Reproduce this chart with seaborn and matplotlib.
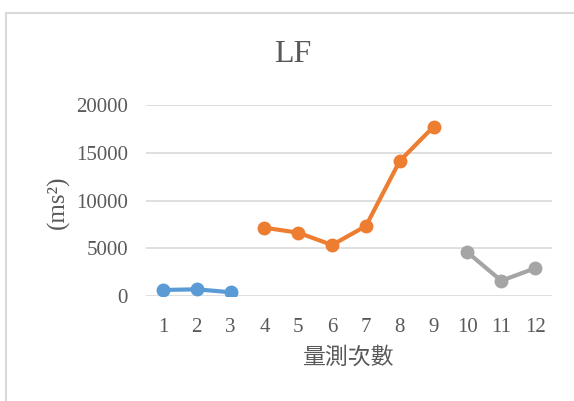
import matplotlib
matplotlib.use("Agg")
import matplotlib.pyplot as plt
from matplotlib.patches import Rectangle
import seaborn as sns
import pandas as pd

# Measurement index and LF power (ms^2), split into three sessions
session1_x = [1, 2, 3]
session1_lf = [630, 700, 390]
session2_x = [4, 5, 6, 7, 8, 9]
session2_lf = [7150, 6630, 5340, 7330, 14140, 17730]
session3_x = [10, 11, 12]
session3_lf = [4580, 1600, 2900]
tick_labels = [str(i) for i in range(1, 13)]

df = pd.concat([
    pd.DataFrame({"x": session1_x, "lf": session1_lf, "session": "s1"}),
    pd.DataFrame({"x": session2_x, "lf": session2_lf, "session": "s2"}),
    pd.DataFrame({"x": session3_x, "lf": session3_lf, "session": "s3"}),
])
palette = {"s1": "#5B9BD5", "s2": "#ED7D31", "s3": "#A5A5A5"}

sns.set_theme(style="white")
plt.rcParams["font.family"] = ["Liberation Serif", "Noto Sans CJK TC"]

fig = plt.figure(figsize=(5.74, 4.01), dpi=100)
ax = fig.add_axes([146 / 574, 1 - 296 / 401, 406 / 574, 191 / 401])

sns.lineplot(data=df, x="x", y="lf", hue="session", palette=palette,
             marker="o", markersize=10, markeredgewidth=0, linewidth=3,
             legend=False, ax=ax, zorder=3)

ax.set_xlim(0.5, 12.5)
ax.set_ylim(0, 20000)
ax.set_yticks([0, 5000, 10000, 15000, 20000])
ax.set_xticks(range(1, 13))
ax.set_xticklabels(tick_labels)
ax.grid(axis="y", color="#d9d9d9", linewidth=1.2)
ax.set_axisbelow(True)
for s in ax.spines.values():
    s.set_visible(False)
ax.tick_params(axis="both", length=0, labelsize=15, labelcolor="#595959")
ax.tick_params(axis="y", pad=13)
ax.tick_params(axis="x", pad=16)

fig.text(293 / 574, 1 - 54 / 401, "LF", fontsize=23, color="#595959",
         ha="center", va="center")
ax.set_xlabel("量測次數", fontsize=16.5, color="#595959",
              family=["Noto Sans CJK TC"])
ax.xaxis.set_label_coords(0.5, -(346 - 296) / 191)
ax.set_ylabel("(ms²)", fontsize=18, color="#595959")
ax.yaxis.set_label_coords((70 - 146) / 406, 0.49)

# Chart area frame
fig.patches.append(Rectangle((6 / 574, -0.2), 1.2, 1 - 13 / 401 + 0.2,
                             transform=fig.transFigure, fill=False,
                             edgecolor="#d9d9d9", linewidth=1.5))

fig.savefig("out.png", dpi=100, facecolor="white")
